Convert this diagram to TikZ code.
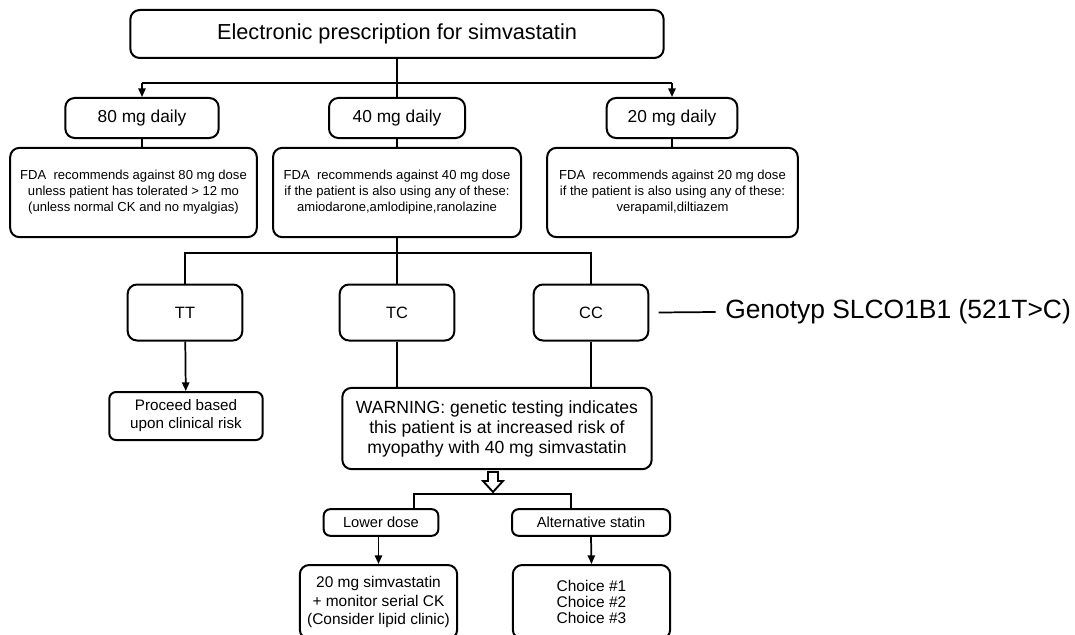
\documentclass[tikz,border=0pt]{standalone}
\usepackage{fontspec}
\setmainfont{Liberation Sans}
\usetikzlibrary{arrows.meta}

\tikzset{
	box/.style={draw, rounded corners=7pt, line width=1.5pt, align=center, inner sep=0pt},
	smallbox/.style={box, rounded corners=5pt},
	link/.style={line width=2pt},
	arr/.style={line width=1.3pt, -{Triangle[length=6.5pt,width=5.5pt]}},
}

\begin{document}
\begin{tikzpicture}[x=0.75pt,y=-0.75pt]
	\useasboundingbox (0,0) rectangle (1075,635);

	\node[box, minimum width=400pt, minimum height=36pt, font=\fontsize{16.3}{19}\selectfont] (title) at (397,34) {Electronic prescription for simvastatin};

	\node[box, minimum width=115pt, minimum height=30pt, font=\fontsize{13}{15}\selectfont] (d80) at (142,118) {80 mg daily};
	\node[box, minimum width=102pt, minimum height=30pt, font=\fontsize{13}{15}\selectfont] (d40) at (397,118) {40 mg daily};
	\node[box, minimum width=98pt, minimum height=30pt, font=\fontsize{13}{15}\selectfont] (d20) at (672,118) {20 mg daily};

	\node[box, minimum width=185pt, minimum height=67pt, font=\fontsize{9.8}{12}\selectfont] (f80) at (133.5,192.5) {FDA\ \ recommends against 80 mg dose\\unless patient has tolerated > 12 mo\\(unless normal CK and no myalgias)};
	\node[box, minimum width=186pt, minimum height=67pt, font=\fontsize{9.8}{12}\selectfont] (f40) at (397,192.5) {FDA\ \ recommends against 40 mg dose\\if the patient is also using any of these:\\amiodarone,amlodipine,ranolazine};
	\node[box, minimum width=188pt, minimum height=67pt, font=\fontsize{9.8}{12}\selectfont] (f20) at (672.5,192.5) {FDA\ \ recommends against 20 mg dose\\if the patient is also using any of these:\\verapamil,diltiazem};

	\node[box, minimum width=86pt, minimum height=42pt, font=\fontsize{12.3}{14}\selectfont] (tt) at (185,312.5) {TT};
	\node[box, minimum width=86pt, minimum height=42pt, font=\fontsize{12.3}{14}\selectfont] (tc) at (397,312.5) {TC};
	\node[box, minimum width=86pt, minimum height=42pt, font=\fontsize{12.3}{14}\selectfont] (cc) at (591,312.5) {CC};
	\node[anchor=west, inner sep=0pt, font=\fontsize{19.8}{23}\selectfont] (geno) at (725,312) {Genotyp SLCO1B1 (521T>C)};

	\node[smallbox, minimum width=115pt, minimum height=36pt, font=\fontsize{11.4}{13.5}\selectfont] (proc) at (186,416) {Proceed based\\upon clinical risk};
	\node[box, minimum width=232pt, minimum height=61pt, font=\fontsize{13.2}{15}\selectfont] (warn) at (497,428.5) {WARNING: genetic testing indicates\\this patient is at increased risk of\\myopathy with 40 mg simvastatin};

	\node[smallbox, minimum width=86pt, minimum height=20pt, font=\fontsize{11}{13}\selectfont] (low) at (381,522.5) {Lower dose};
	\node[smallbox, minimum width=118.5pt, minimum height=20pt, font=\fontsize{11}{13}\selectfont] (alt) at (591,522.5) {Alternative statin};
	\node[box, minimum width=118pt, minimum height=55.5pt, font=\fontsize{11.6}{13.6}\selectfont] (sim) at (378.5,602) {20 mg simvastatin\\+ monitor serial CK\\(Consider lipid clinic)};
	\node[box, minimum width=118pt, minimum height=55.5pt, font=\fontsize{11.6}{12.2}\selectfont] (choice) at (591.5,602) {Choice \#1\\Choice \#2\\Choice \#3};

	% dose branches
	\coordinate (j1) at (397,83);
	\draw[link] (title.south) -- (d40.north);
	\draw[link] (j1) -- (j1 -| d80.north);
	\draw[link] (j1) -- (j1 -| d20.north);
	\draw[arr] (j1 -| d80.north) -- (d80.north);
	\draw[arr] (j1 -| d20.north) -- (d20.north);
	\draw[link] (d80) -- (d80 |- f80.north);
	\draw[link] (d40) -- (f40);
	\draw[link] (d20) -- (d20 |- f20.north);

	% genotypes
	\coordinate (j2) at (397,253);
	\draw[link] (f40.south) -- (tc.north);
	\draw[link] (j2) -| (tt.north);
	\draw[link] (j2) -| (cc.north);
	\draw[line width=1.3pt] ([xshift=7pt]cc.east) -- ([xshift=-7pt]geno.west);
	\draw[arr] (tt) -- (proc);
	\draw[link] (tc.south) -- (tc |- warn.north);
	\draw[link] (cc.south) -- (cc |- warn.north);

	% options
	\draw[line width=1.4pt, fill=white] (488,472) -- (498,472) -- (498,481) -- (503,481) -- (493,492) -- (483,481) -- (488,481) -- cycle;
	\coordinate (jl) at (414,494);
	\coordinate (jr) at (571,494);
	\draw[link, line width=1.8pt] (jl |- low.north) -- (jl) -- (jr) -- (jr |- alt.north);
	\draw[arr] (sim.north |- low.south) -- (sim.north);
	\draw[arr] (alt.south) -- (choice.north);
\end{tikzpicture}
\end{document}
